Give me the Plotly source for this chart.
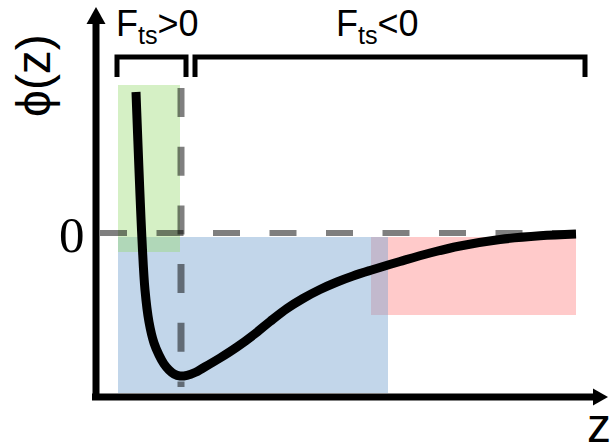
import plotly.graph_objects as go

# Interaction potential phi(z) between tip and sample (arbitrary units)
z_curve = [0.80, 0.92, 0.98, 1.06, 1.16, 1.26, 1.36, 1.46, 1.56, 1.68, 1.82,
           1.98, 2.14, 2.48, 2.82, 3.16, 3.48, 3.82, 4.14, 4.48, 4.82, 5.14,
           5.48, 6.08, 6.68, 7.28, 8.08, 8.88, 9.60]
phi_curve = [2.82, -0.14, -1.14, -1.78, -2.20, -2.44, -2.62, -2.74, -2.82, -2.86,
             -2.846, -2.79, -2.70, -2.50, -2.28, -2.03, -1.77, -1.51, -1.31, -1.13,
             -0.98, -0.86, -0.75, -0.57, -0.40, -0.26, -0.13, -0.056, -0.02]

# Position of the potential minimum (force changes sign there)
z_eq = 1.70

# Shaded regions: [z0, z1, phi0, phi1]
region_repulsive = [0.44, 1.68, -0.38, 2.96]   # green
region_attractive = [0.44, 5.84, -3.20, -0.08]  # blue
region_longrange = [5.50, 9.60, -1.64, -0.08]   # red

# Bracket extents along z and their height
bracket_pos = [0.42, 1.80]
bracket_neg = [1.98, 9.78]
bracket_top, bracket_leg = 3.52, 3.12

# Axis frame
z_axis_min, z_axis_max = -0.08, 10.24
phi_axis_min, phi_axis_max = -3.34, 4.52
phi_baseline = -3.28

fig = go.Figure()

shapes = []
# shaded regions, drawn below the curve
for reg, col in [(region_longrange, "rgba(255,202,202,1)"),
                 (region_attractive, "rgba(120,164,209,0.45)"),
                 (region_repulsive, "rgba(150,217,110,0.40)")]:
    shapes.append(dict(type="rect", layer="below", x0=reg[0], x1=reg[1],
                       y0=reg[2], y1=reg[3], fillcolor=col, line_width=0))

# zero line and minimum position
shapes.append(dict(type="line", layer="below", x0=0.08, x1=region_longrange[1],
                   y0=0, y1=0,
                   line=dict(color="rgba(0,0,0,0.5)", width=6, dash="27px,29.5px")))
shapes.append(dict(type="line", layer="below", x0=z_eq, x1=z_eq,
                   y0=region_repulsive[3] - 0.06, y1=-3.08,
                   line=dict(color="rgba(0,0,0,0.5)", width=7, dash="29px,29.7px")))

# axes with arrowheads
shapes.append(dict(type="line", x0=0, x1=0, y0=phi_axis_min, y1=4.20,
                   line=dict(color="black", width=7)))
shapes.append(dict(type="line", x0=z_axis_min, x1=9.96, y0=phi_baseline, y1=phi_baseline,
                   line=dict(color="black", width=7)))
shapes.append(dict(type="path", fillcolor="black", line_width=0,
                   path=f"M {-0.19} 4.18 L 0 {phi_axis_max} L 0.19 4.18 Z"))
shapes.append(dict(type="path", fillcolor="black", line_width=0,
                   path=f"M 9.94 {phi_baseline + 0.17} L {z_axis_max} {phi_baseline} "
                        f"L 9.94 {phi_baseline - 0.17} Z"))

# brackets above the plot
for b in (bracket_pos, bracket_neg):
    shapes.append(dict(type="path", line=dict(color="black", width=5),
                       path=f"M {b[0]} {bracket_leg} L {b[0]} {bracket_top} "
                            f"L {b[1]} {bracket_top} L {b[1]} {bracket_leg}"))

fig.add_trace(go.Scatter(x=z_curve, y=phi_curve, mode="lines",
                         line=dict(color="black", width=9, shape="spline", smoothing=1.0),
                         hoverinfo="skip", showlegend=False))

sans = "Liberation Sans, Arial, sans-serif"
annotations = [
    dict(x=-0.49, y=-0.03, text="0", showarrow=False, xanchor="center", yanchor="middle",
         font=dict(family="Liberation Serif, Times New Roman, serif", size=51, color="black")),
    dict(x=-1.26, y=3.14, text="ϕ(z)", showarrow=False, textangle=-90,
         xanchor="center", yanchor="middle",
         font=dict(family=sans, size=48, color="black")),
    dict(x=9.78, y=-3.85, text="z", showarrow=False, xanchor="left", yanchor="middle",
         font=dict(family=sans, size=48, color="black")),
    dict(x=0.36, y=4.14, text="F<sub>ts</sub>>0", showarrow=False, xanchor="left",
         yanchor="middle", font=dict(family=sans, size=36, color="black")),
    dict(x=4.76, y=4.14, text="F<sub>ts</sub><0", showarrow=False, xanchor="left",
         yanchor="middle", font=dict(family=sans, size=36, color="black")),
]

fig.update_layout(
    width=611, height=445,
    margin=dict(l=0, r=0, t=0, b=0),
    paper_bgcolor="white", plot_bgcolor="white",
    xaxis=dict(range=[-1.92, 10.30], visible=False, fixedrange=True),
    yaxis=dict(range=[-4.24, 4.66], visible=False, fixedrange=True),
    shapes=shapes, annotations=annotations,
    showlegend=False,
)

fig.write_html("out.html")
